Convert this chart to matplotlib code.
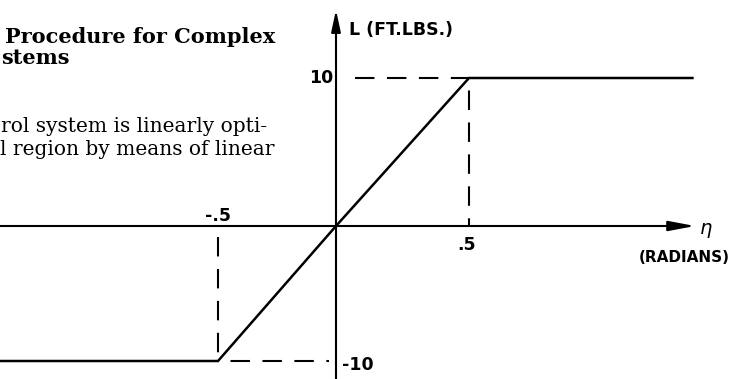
import numpy as np
import matplotlib
matplotlib.use('Agg')
import matplotlib.pyplot as plt

# saturation characteristic: hinge moment L vs deflection eta
eta = [-1.45, -0.5, 0.0, 0.5, 1.34]
L = [-10, -10, 0, 10, 10]
eta_sat = 0.5
L_sat = 10

x_ticklabels = ['-.5', '.5']
y_ticklabels = ['10', '-10']


# piecewise-linear axes: different spacing either side of zero
def fwd_x(x):
    x = np.asarray(x, dtype=float)
    return np.where(x < 0, x * 236.0, x * 266.0)


def inv_x(u):
    u = np.asarray(u, dtype=float)
    return np.where(u < 0, u / 236.0, u / 266.0)


def fwd_y(y):
    y = np.asarray(y, dtype=float)
    return np.where(y < 0, y * 13.5, y * 14.8)


def inv_y(u):
    u = np.asarray(u, dtype=float)
    return np.where(u < 0, u / 13.5, u / 14.8)


plt.rcParams['lines.scale_dashes'] = False

fig = plt.figure(figsize=(7.47, 3.79), dpi=100)
ax = fig.add_axes([0, 0, 1, 1])
ax.set_xscale('function', functions=(fwd_x, inv_x))
ax.set_yscale('function', functions=(fwd_y, inv_y))
ax.set_xlim(-336 / 236.0, 411 / 266.0)
ax.set_ylim(-153 / 13.5, 226 / 14.8)
ax.axis('off')

lw = 1.5
dash = (0, (14, 9))

# axes with arrow heads
ax.annotate('', xy=(1.35, 0), xytext=(-1.45, 0),
            arrowprops=dict(arrowstyle='-|>,head_length=1.6,head_width=0.3',
                            lw=lw, color='black', shrinkA=0, shrinkB=0,
                            mutation_scale=10))
ax.annotate('', xy=(0, 14.6), xytext=(0, -11.4),
            arrowprops=dict(arrowstyle='-|>,head_length=1.3,head_width=0.28',
                            lw=lw, color='black', shrinkA=0, shrinkB=0,
                            mutation_scale=10))

# characteristic
ax.plot(eta, L, color='black', lw=lw + 0.3, solid_joinstyle='miter')

# dashed guides to the saturation corners
ax.plot([0.07, eta_sat], [L_sat, L_sat], color='black', lw=lw, linestyle=dash)
ax.plot([eta_sat, eta_sat], [L_sat, 0], color='black', lw=lw, linestyle=(14, (14, 9)))
ax.plot([-eta_sat, -eta_sat], [-0.8, -L_sat], color='black', lw=lw, linestyle=dash)
ax.plot([-eta_sat, -0.03], [-L_sat, -L_sat], color='black', lw=lw, linestyle=(14, (14, 9)))

lab = dict(fontfamily='DejaVu Sans', fontweight='bold', fontsize=12.5, color='black')
ax.text(-eta_sat, 0.68, x_ticklabels[0], ha='center', va='center', **lab)
ax.text(eta_sat - 0.01, -1.41, x_ticklabels[1], ha='center', va='center', **lab)
ax.text(-0.012, L_sat, y_ticklabels[0], ha='right', va='center', **lab)
ax.text(0.023, -L_sat - 0.3, y_ticklabels[1], ha='left', va='center', **lab)
ax.text(0.05, 13.25, 'L (FT.LBS.)', ha='left', va='center', **lab)
ax.text(1.365, -0.3, r'$\eta$', ha='left', va='center', fontsize=14, color='black')
ax.text(1.308, -2.35, '(RADIANS)', ha='center', va='center',
        fontfamily='DejaVu Sans', fontweight='bold', fontsize=11, color='black')

# page text beside the figure
ax.text(5 / 747, 1 - 43 / 379, 'Procedure for Complex', transform=ax.transAxes,
        ha='left', va='baseline', fontfamily='DejaVu Serif', fontweight='bold', fontsize=15)
ax.text(1 / 747, 1 - 64 / 379, 'stems', transform=ax.transAxes,
        ha='left', va='baseline', fontfamily='DejaVu Serif', fontweight='bold', fontsize=15)
ax.text(1 / 747, 1 - 132 / 379, 'rol system is linearly opti-', transform=ax.transAxes,
        ha='left', va='baseline', fontfamily='DejaVu Serif', fontsize=14.5)
ax.text(0, 1 - 155 / 379, 'l region by means of linear', transform=ax.transAxes,
        ha='left', va='baseline', fontfamily='DejaVu Serif', fontsize=14.5)

plt.savefig('out.png', dpi=100)
